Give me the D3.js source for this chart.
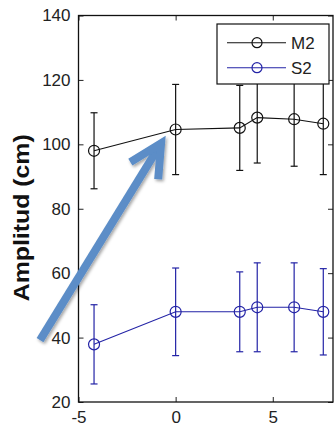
<!DOCTYPE html>
<html>
<head>
<meta charset="utf-8">
<script src="https://cdn.jsdelivr.net/npm/d3@7"></script>
<style>
  html, body { margin: 0; padding: 0; background: #fff; }
  svg { display: block; font-family: "Liberation Sans", Arial, sans-serif; }
</style>
</head>
<body>
<svg id="chart" width="335" height="430"></svg>
<script>
// ---- data ----
const xValues   = [-4.2, 0, 3.3, 4.2, 6.1, 7.6];
const m2Values  = [98.0, 104.6, 105.1, 108.3, 107.8, 106.4];
const m2Errors  = [11.8, 14.0, 13.2, 14.1, 14.6, 15.8];
const s2Values  = [37.9, 48.0, 48.0, 49.4, 49.4, 48.0];
const s2Errors  = [12.3, 13.6, 12.4, 13.8, 13.8, 13.4];
const seriesNames = ["M2", "S2"];
const xTicks = [-5, 0, 5];
const yTicks = [20, 40, 60, 80, 100, 120, 140];
const yLabel = "Amplitud (cm)";
// annotation arrow (data coordinates: tail, tip)
const arrowTail = [-6.98, 39.2];
const arrowTip  = [-0.75, 100.3];

// ---- layout ----
const svg = d3.select("#chart");
const plotL = 78.5, plotR = 333, plotT = 15.5, plotB = 402;
const x = d3.scaleLinear().domain([-5, 8.1]).range([plotL, plotR]);
const y = d3.scaleLinear().domain([20, 140]).range([plotB, plotT]);

const series = [
  { name: seriesNames[0], values: m2Values, errors: m2Errors, color: "#111111" },
  { name: seriesNames[1], values: s2Values, errors: s2Errors, color: "#2323a6" }
];

const tickColor = "#222";
const tickLen = 5;
const plainFmt = d => String(d);

// axes (MATLAB style: inward ticks on all sides)
const gL = svg.append("g").attr("transform", `translate(${plotL},0)`)
  .call(d3.axisLeft(y).tickValues(yTicks).tickFormat(plainFmt).tickSizeInner(-tickLen).tickSizeOuter(0).tickPadding(8));
const gR = svg.append("g").attr("transform", `translate(${plotR},0)`)
  .call(d3.axisRight(y).tickValues(yTicks).tickSizeInner(-tickLen).tickSizeOuter(0).tickFormat(""));
const gB = svg.append("g").attr("transform", `translate(0,${plotB})`)
  .call(d3.axisBottom(x).tickValues(xTicks).tickFormat(plainFmt).tickSizeInner(-tickLen).tickSizeOuter(0).tickPadding(9));
const gT = svg.append("g").attr("transform", `translate(0,${plotT})`)
  .call(d3.axisTop(x).tickValues(xTicks).tickSizeInner(-tickLen).tickSizeOuter(0).tickFormat(""));
[gL, gR, gB, gT].forEach(g => {
  g.select(".domain").remove();
  g.selectAll(".tick line").attr("stroke", tickColor).attr("stroke-width", 1);
  g.selectAll(".tick text").attr("fill", "#222").style("font-size", "17px")
    .style("font-family", '"Liberation Sans", Arial, sans-serif');
});
gB.selectAll(".tick text").attr("dy", "0.71em");

// box
svg.append("rect")
  .attr("x", plotL).attr("y", plotT)
  .attr("width", plotR - plotL).attr("height", plotB - plotT)
  .attr("fill", "none").attr("stroke", "#111").attr("stroke-width", 1.3);

// y label
svg.append("text")
  .attr("transform", `translate(28.5,${(plotT + plotB) / 2 + 9}) rotate(-90)`)
  .attr("text-anchor", "middle")
  .attr("font-weight", "bold")
  .attr("font-size", "22px")
  .attr("fill", "#111")
  .attr("textLength", 167)
  .attr("lengthAdjust", "spacingAndGlyphs")
  .text(yLabel);

// series
const capHalf = 3.5;
const markerR = 5.5;
series.forEach(s => {
  const g = svg.append("g");
  const pts = xValues.map((xv, i) => ({ x: xv, v: s.values[i], e: s.errors[i] }));
  g.append("path").datum(pts)
    .attr("d", d3.line().x(d => x(d.x)).y(d => y(d.v)))
    .attr("fill", "none").attr("stroke", s.color).attr("stroke-width", 1.1);
  const eb = g.selectAll(".eb").data(pts).enter().append("g");
  eb.append("line")
    .attr("x1", d => x(d.x)).attr("x2", d => x(d.x))
    .attr("y1", d => y(d.v - d.e)).attr("y2", d => y(d.v + d.e))
    .attr("stroke", s.color).attr("stroke-width", 1.2);
  eb.append("line")
    .attr("x1", d => x(d.x) - capHalf).attr("x2", d => x(d.x) + capHalf)
    .attr("y1", d => y(d.v + d.e)).attr("y2", d => y(d.v + d.e))
    .attr("stroke", s.color).attr("stroke-width", 1.2);
  eb.append("line")
    .attr("x1", d => x(d.x) - capHalf).attr("x2", d => x(d.x) + capHalf)
    .attr("y1", d => y(d.v - d.e)).attr("y2", d => y(d.v - d.e))
    .attr("stroke", s.color).attr("stroke-width", 1.2);
  g.selectAll("circle").data(pts).enter().append("circle")
    .attr("cx", d => x(d.x)).attr("cy", d => y(d.v)).attr("r", markerR)
    .attr("fill", "none").attr("stroke", s.color).attr("stroke-width", 1.2);
});

// legend
const lg = svg.append("g");
const lx0 = 217, ly0 = 24, lw = 112, lh = 60;
lg.append("rect").attr("x", lx0).attr("y", ly0).attr("width", lw).attr("height", lh)
  .attr("fill", "#fff").attr("stroke", "#111").attr("stroke-width", 1.2);
series.forEach((s, i) => {
  const yy = ly0 + 18.7 + i * 25;
  lg.append("line").attr("x1", lx0 + 10).attr("x2", lx0 + 69).attr("y1", yy).attr("y2", yy)
    .attr("stroke", s.color).attr("stroke-width", 1.1);
  lg.append("circle").attr("cx", lx0 + 40).attr("cy", yy).attr("r", 5)
    .attr("fill", "none").attr("stroke", s.color).attr("stroke-width", 1.2);
  lg.append("text").attr("x", lx0 + 74).attr("y", yy).attr("dy", "0.36em")
    .attr("font-size", "17px").attr("fill", "#222").text(s.name);
});

// annotation arrow
const defs = svg.append("defs");
const f = defs.append("filter").attr("id", "shadow").attr("x", "-20%").attr("y", "-20%")
  .attr("width", "140%").attr("height", "140%");
f.append("feDropShadow").attr("dx", 1.5).attr("dy", 2).attr("stdDeviation", 1.5)
  .attr("flood-color", "#000").attr("flood-opacity", 0.35);

const tx = x(arrowTail[0]), ty = y(arrowTail[1]);
const hx = x(arrowTip[0]), hy = y(arrowTip[1]);
const ang = Math.atan2(hy - ty, hx - tx);
const headLen = 36, headAng = 27 * Math.PI / 180;
const b1 = [hx - headLen * Math.cos(ang - headAng), hy - headLen * Math.sin(ang - headAng)];
const b2 = [hx - headLen * Math.cos(ang + headAng), hy - headLen * Math.sin(ang + headAng)];
const ag = svg.append("g").attr("filter", "url(#shadow)");
const arrowColor = "#5b8dc7";
ag.append("line").attr("x1", tx).attr("y1", ty).attr("x2", hx - 3 * Math.cos(ang)).attr("y2", hy - 3 * Math.sin(ang))
  .attr("stroke", arrowColor).attr("stroke-width", 8);
ag.append("path")
  .attr("d", d3.line()([b1, [hx, hy], b2]))
  .attr("fill", "none").attr("stroke", arrowColor).attr("stroke-width", 8)
  .attr("stroke-linejoin", "miter").attr("stroke-linecap", "butt");
</script>
</body>
</html>
